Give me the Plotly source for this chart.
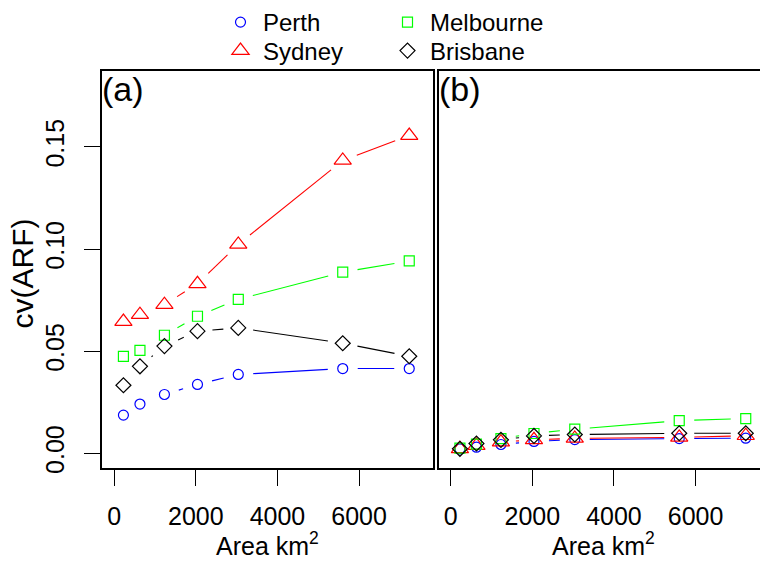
import math
import plotly.graph_objects as go

# ---------------- data ----------------
area = [225, 630, 1230, 2040, 3040, 5600, 7230]

perth_a = [0.0187, 0.0241, 0.0288, 0.0337, 0.0386, 0.0415, 0.0415]
sydney_a = [0.0645, 0.0679, 0.0728, 0.0830, 0.1023, 0.1434, 0.1556]
melb_a = [0.0475, 0.0504, 0.0578, 0.0671, 0.0754, 0.0887, 0.0942]
bris_a = [0.0333, 0.0426, 0.0525, 0.0598, 0.0614, 0.0539, 0.0475]

perth_b = [0.0022, 0.0030, 0.0043, 0.0058, 0.0067, 0.0072, 0.0074]
sydney_b = [0.0022, 0.0038, 0.0055, 0.0066, 0.0073, 0.0078, 0.0086]
melb_b = [0.0025, 0.0045, 0.0072, 0.0097, 0.0118, 0.0160, 0.0170]
bris_b = [0.0022, 0.0048, 0.0066, 0.0085, 0.0092, 0.0098, 0.0098]

x_ticks = [0, 2000, 4000, 6000]
y_ticks = [0.0, 0.05, 0.10, 0.15]
y_tick_text = ["0.00", "0.05", "0.10", "0.15"]

# name, colour, symbol, size, panel a, panel b, legend id
series = [
    ("Perth", "#0000FF", "circle-open", 10, perth_a, perth_b, "legend"),
    ("Sydney", "#FF0000", "triangle-up-open", 15, sydney_a, sydney_b, "legend3"),
    ("Melbourne", "#00FF00", "square-open", 10, melb_a, melb_b, "legend2"),
    ("Brisbane", "#000000", "diamond-open", 11.5, bris_a, bris_b, "legend4"),
]

# ---------------- layout geometry ----------------
W, H = 760, 565
T, B = 71, 97
PH = H - T - B
A_L, A_R = 102.0, 432.5
B_L = 438.5
XR_A = [-300, 7800]
XR_B = [-300, -300 + (W - B_L) * (XR_A[1] - XR_A[0]) / (A_R - A_L)]
YR = [-0.0072, 0.1872]

sx = (A_R - A_L) / (XR_A[1] - XR_A[0])
sy = PH / (YR[1] - YR[0])
GAP = 15.0
FONT = "Liberation Sans, Arial, sans-serif"


def gapped(xs, ys):
    ox, oy = [], []
    for i in range(len(xs) - 1):
        dx = xs[i + 1] - xs[i]
        dy = ys[i + 1] - ys[i]
        d = math.hypot(dx * sx, dy * sy)
        f = GAP / d
        if f < 0.5:
            ox += [xs[i] + f * dx, xs[i + 1] - f * dx, None]
            oy += [ys[i] + f * dy, ys[i + 1] - f * dy, None]
    return ox, oy


fig = go.Figure()
for name, col, sym, size, ya, yb, leg in series:
    for (xa, yax, vals, show) in [("x", "y", ya, True), ("x2", "y2", yb, False)]:
        lx, ly = gapped(area, vals)
        fig.add_trace(go.Scatter(
            x=lx, y=ly, mode="lines", xaxis=xa, yaxis=yax,
            line=dict(color=col, width=1.1), showlegend=False, hoverinfo="skip"))
        fig.add_trace(go.Scatter(
            x=area, y=vals, mode="markers", xaxis=xa, yaxis=yax, name=name,
            legend=leg, showlegend=show,
            marker=dict(symbol=sym, size=size, color=col, line=dict(color=col, width=1.2))))

axis_common = dict(showgrid=False, zeroline=False, showline=True, linecolor="black",
                   linewidth=1.5, ticks="outside", ticklen=16, tickwidth=1.3,
                   tickcolor="black", automargin=False,
                   tickfont=dict(family=FONT, size=25, color="black"))


def legend_at(xpx, ypx):
    return dict(xref="container", yref="container", x=xpx / W, y=1 - ypx / H,
                xanchor="left", yanchor="top", orientation="v",
                bgcolor="rgba(0,0,0,0)", itemwidth=35,
                font=dict(family=FONT, size=24, color="black"), tracegroupgap=0)


fig.update_layout(
    template="none",
    width=W, height=H, margin=dict(l=0, r=0, t=T, b=B, autoexpand=False),
    paper_bgcolor="white", plot_bgcolor="white",
    font=dict(family=FONT, color="black"),
    xaxis=dict(domain=[A_L / W, A_R / W], range=XR_A, tickvals=x_ticks, mirror=True,
               anchor="y", ticklabelstandoff=9, **axis_common),
    yaxis=dict(domain=[0, 1], range=YR, tickvals=y_ticks, ticktext=y_tick_text,
               tickangle=-90, mirror=True, anchor="x", ticklabelstandoff=10, **axis_common),
    xaxis2=dict(domain=[B_L / W, 1], range=XR_B, tickvals=x_ticks, mirror=True,
                anchor="y2", ticklabelstandoff=9, **axis_common),
    yaxis2=dict(domain=[0, 1], range=YR, anchor="x2", showgrid=False, zeroline=False,
                showline=True, linecolor="black", linewidth=1.5, showticklabels=False,
                ticks="", automargin=False),
    legend=legend_at(218, -1.5),
    legend2=legend_at(385, -1.5),
    legend3=legend_at(218, 28.5),
    legend4=legend_at(385, 28.5),
)


def py(p):
    return (H - B - p) / PH


ann = [
    dict(text="cv(ARF)", x=22 / W, y=py(273.5), xref="paper", yref="paper", textangle=-90,
         font=dict(size=30), xanchor="center", yanchor="middle"),
    dict(text="Area km<sup>2</sup>", x=0.5, xref="x domain", y=py(543.5), yref="paper",
         font=dict(size=25), xanchor="center", yanchor="middle"),
    dict(text="Area km<sup>2</sup>", x=(B_L + (A_R - A_L) / 2) / W, xref="paper", y=py(543.5),
         yref="paper", font=dict(size=25), xanchor="center", yanchor="middle"),
    dict(text="(a)", x=100 / W, y=py(88.5), xref="paper", yref="paper", font=dict(size=34),
         xanchor="left", yanchor="middle"),
    dict(text="(b)", x=437 / W, y=py(88.5), xref="paper", yref="paper", font=dict(size=34),
         xanchor="left", yanchor="middle"),
]
for a in ann:
    a["showarrow"] = False
    a["font"]["family"] = FONT
    a["font"]["color"] = "black"
fig.update_layout(annotations=ann)

fig.write_html("out.html", config={"displayModeBar": False},
               post_script="document.body.style.margin='0px';")
